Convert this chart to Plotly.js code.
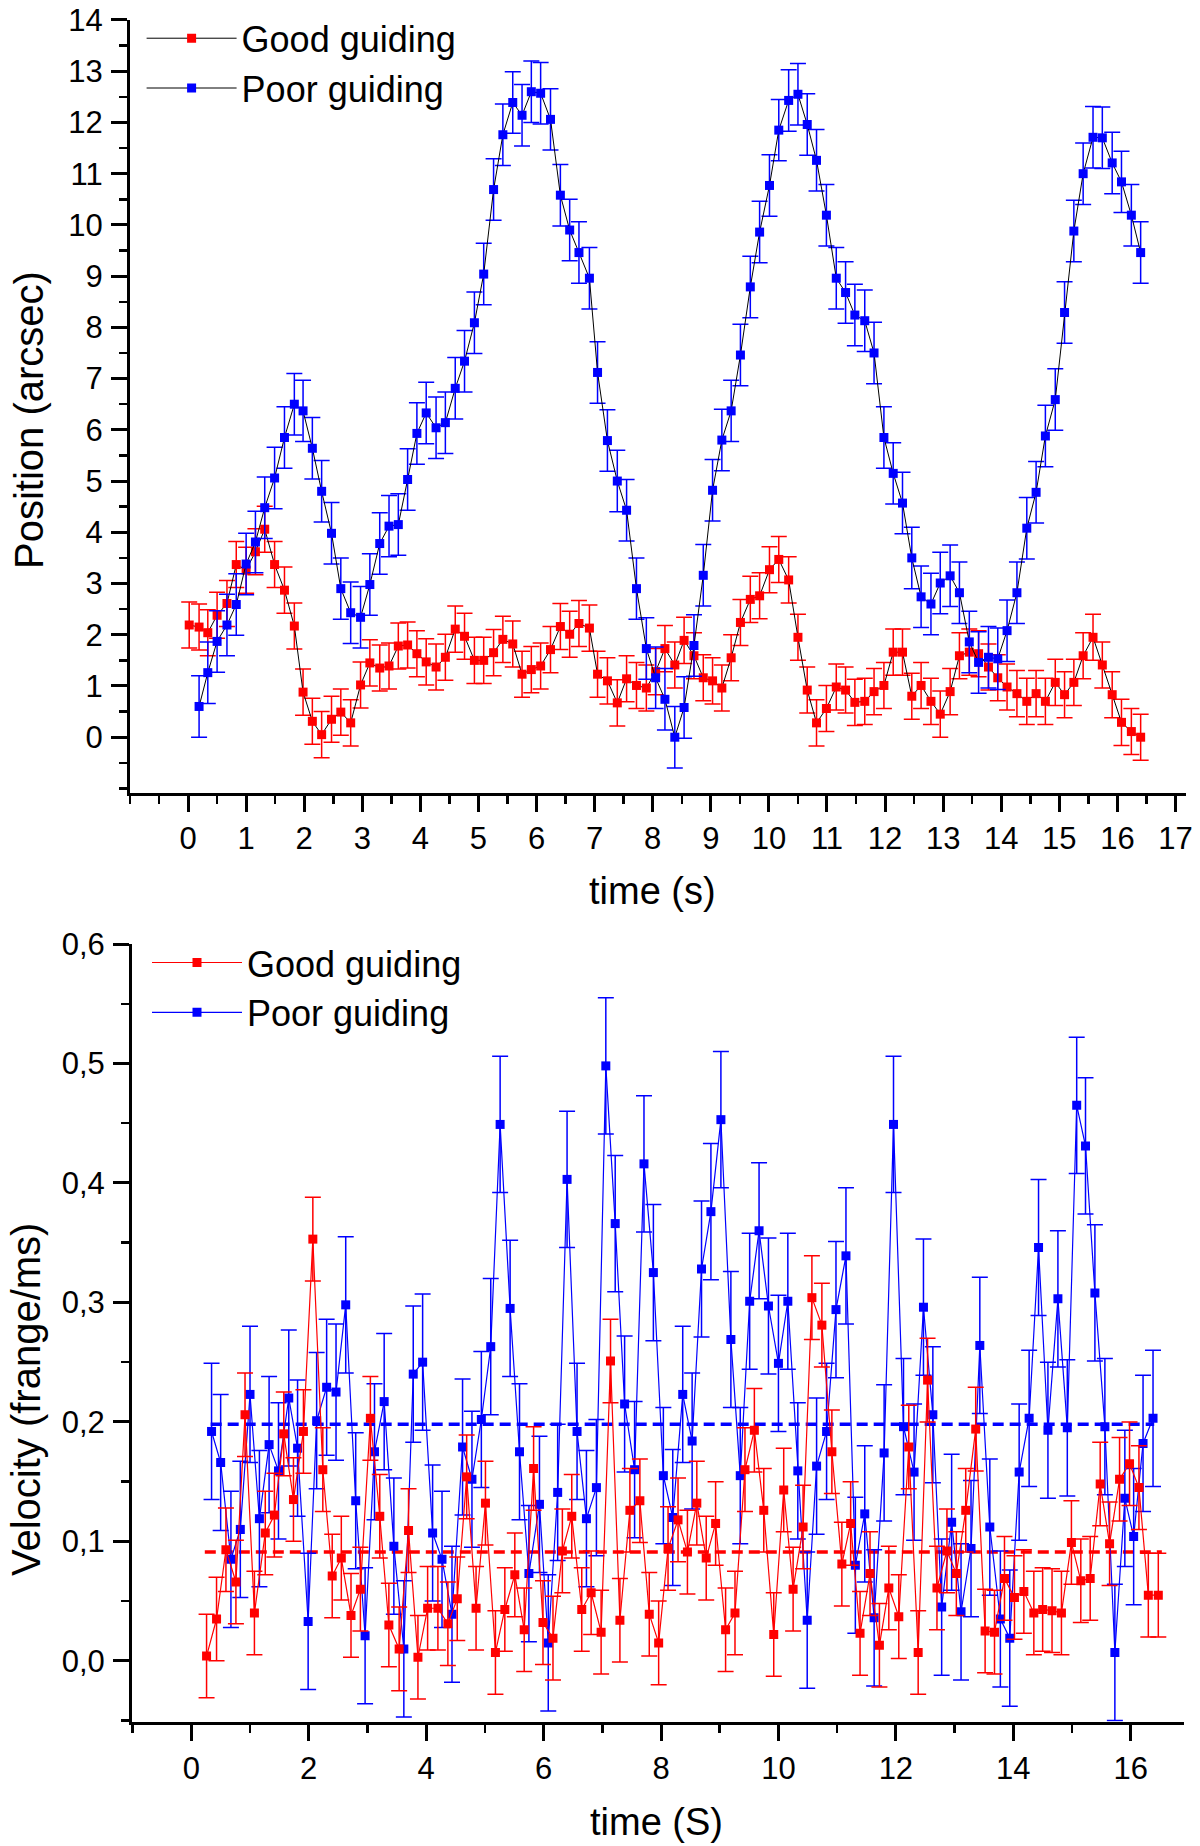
<!DOCTYPE html>
<html>
<head>
<meta charset="utf-8">
<script src="https://cdn.plot.ly/plotly-3.0.1.min.js"></script>
<style>
  html, body { margin: 0; padding: 0; background: #fff; }
  #chart { width: 1200px; height: 1846px; }
</style>
</head>
<body>
<div id="chart"></div>
<script>
///////////////////////////////////////////////  data /////////////////////////////////////////////////////////
// top panel: position (arcsec) vs time (s)
var timeGoodTop = [0.02,0.19,0.34,0.50,0.67,0.83,1.00,1.16,1.32,1.49,1.66,1.83,1.98,2.14,2.30,2.47,2.63,2.80,2.97,3.13,
  3.30,3.46,3.62,3.78,3.94,4.10,4.27,4.43,4.60,4.76,4.93,5.09,5.26,5.42,5.59,5.75,5.91,6.07,6.24,6.41,
  6.57,6.73,6.91,7.05,7.22,7.39,7.55,7.72,7.89,8.05,8.21,8.38,8.54,8.71,8.87,9.03,9.19,9.35,9.51,9.68,
  9.84,10.01,10.17,10.34,10.50,10.66,10.82,10.99,11.16,11.32,11.48,11.65,11.81,11.98,12.14,12.30,12.46,12.62,12.79,12.95,
  13.12,13.28,13.45,13.61,13.78,13.94,14.10,14.27,14.44,14.60,14.76,14.93,15.09,15.25,15.41,15.58,15.74,15.91,16.07,16.24,16.40];
var posGood = [2.19,2.15,2.04,2.38,2.61,3.37,3.26,3.62,4.06,3.37,2.87,2.17,0.88,0.31,0.05,0.35,0.49,0.28,1.02,1.45,
  1.35,1.39,1.78,1.80,1.63,1.47,1.37,1.56,2.11,1.97,1.50,1.50,1.65,1.91,1.82,1.23,1.32,1.39,1.71,2.16,
  2.01,2.22,2.13,1.23,1.10,0.67,1.14,1.01,0.96,1.28,1.73,1.41,1.89,1.59,1.16,1.10,0.96,1.55,2.24,2.69,
  2.76,3.27,3.47,3.07,1.95,0.92,0.28,0.56,0.98,0.92,0.68,0.70,0.89,1.01,1.66,1.66,0.80,1.01,0.70,0.45,
  0.89,1.59,1.66,1.63,1.37,1.16,0.98,0.85,0.70,0.85,0.70,1.07,0.83,1.07,1.59,1.95,1.41,0.83,0.29,0.11,0.00];

var timePoorTop = [0.19,0.34,0.50,0.67,0.83,1.00,1.16,1.32,1.49,1.66,1.83,1.98,2.14,2.30,2.47,2.63,2.80,2.97,3.13,3.30,
  3.46,3.62,3.78,3.94,4.10,4.27,4.43,4.60,4.76,4.93,5.09,5.26,5.42,5.59,5.75,5.91,6.07,6.24,6.41,6.57,
  6.73,6.91,7.05,7.22,7.39,7.55,7.72,7.89,8.05,8.21,8.38,8.54,8.71,8.87,9.03,9.19,9.35,9.51,9.68,9.84,
  10.01,10.17,10.34,10.50,10.66,10.82,10.99,11.16,11.32,11.48,11.65,11.81,11.98,12.14,12.30,12.46,12.62,12.79,12.95,13.12,
  13.28,13.45,13.61,13.78,13.94,14.10,14.27,14.44,14.60,14.76,14.93,15.09,15.25,15.41,15.58,15.74,15.91,16.07,16.24,16.40];
var posPoor = [0.60,1.26,1.87,2.19,2.59,3.38,3.81,4.48,5.06,5.85,6.50,6.37,5.64,4.80,3.98,2.90,2.43,2.34,2.98,3.78,
  4.12,4.15,5.03,5.93,6.33,6.04,6.14,6.81,7.34,8.09,9.04,10.69,11.76,12.39,12.14,12.60,12.57,12.06,10.58,9.90,
  9.46,8.96,7.12,5.79,5.00,4.43,2.90,1.73,1.16,0.74,0.00,0.58,1.79,3.16,4.82,5.80,6.37,7.46,8.79,9.86,
  10.77,11.85,12.43,12.55,11.96,11.26,10.19,8.96,8.68,8.24,8.13,7.50,5.85,5.15,4.57,3.50,2.74,2.60,3.01,3.15,
  2.82,1.86,1.46,1.56,1.53,2.08,2.82,4.08,4.78,5.88,6.59,8.29,9.88,11.00,11.71,11.70,11.21,10.84,10.19,9.46];

var errPosGood = 0.45;
var errPosPoor = 0.6;

// bottom panel: velocity (frange/ms) vs time (S)
var timeGoodBottom = [0.26,0.43,0.59,0.76,0.915,1.075,1.26,1.415,1.575,1.74,1.91,2.07,2.24,2.40,2.555,2.72,2.88,3.05,3.21,3.365,
  3.54,3.70,3.86,4.025,4.20,4.37,4.53,4.69,4.85,5.01,5.18,5.34,5.51,5.67,5.83,5.99,6.16,6.32,6.48,6.65,
  6.81,6.98,7.14,7.30,7.47,7.64,7.80,7.96,8.12,8.29,8.45,8.61,8.77,8.93,9.10,9.26,9.43,9.59,9.75,9.92,
  10.09,10.25,10.42,10.57,10.74,10.91,11.08,11.23,11.39,11.56,11.72,11.88,12.05,12.22,12.38,12.54,12.70,12.87,13.03,13.19,
  13.36,13.52,13.68,13.85,14.02,14.18,14.35,14.50,14.66,14.82,14.99,15.15,15.31,15.48,15.64,15.81,15.98,16.14,16.30,16.47];
var velGood = [0.004,0.035,0.093,0.066,0.206,0.040,0.107,0.122,0.190,0.135,0.192,0.353,0.160,0.071,0.086,0.038,0.060,0.203,0.121,0.030,
  0.010,0.109,0.003,0.044,0.044,0.031,0.052,0.154,0.044,0.132,0.007,0.043,0.072,0.026,0.161,0.032,0.019,0.092,0.121,0.043,
  0.057,0.024,0.251,0.034,0.126,0.134,0.039,0.015,0.094,0.118,0.091,0.132,0.086,0.115,0.026,0.040,0.160,0.193,0.126,0.022,
  0.143,0.060,0.112,0.304,0.281,0.175,0.081,0.115,0.023,0.073,0.013,0.061,0.037,0.179,0.007,0.235,0.061,0.092,0.073,0.126,
  0.194,0.025,0.024,0.069,0.053,0.058,0.040,0.043,0.042,0.040,0.099,0.067,0.069,0.148,0.098,0.152,0.165,0.145,0.055,0.055];

var timePoorBottom = [0.345,0.50,0.675,0.835,1.00,1.16,1.325,1.485,1.66,1.81,1.99,2.135,2.305,2.465,2.63,2.80,2.96,3.12,3.285,3.45,
  3.62,3.78,3.94,4.11,4.27,4.44,4.62,4.78,4.94,5.10,5.26,5.43,5.59,5.75,5.93,6.08,6.24,6.40,6.57,6.73,
  6.90,7.06,7.22,7.38,7.55,7.71,7.87,8.04,8.20,8.37,8.53,8.69,8.85,9.02,9.19,9.35,9.51,9.67,9.83,10.00,
  10.16,10.33,10.49,10.65,10.82,10.98,11.15,11.31,11.47,11.63,11.80,11.96,12.13,12.31,12.47,12.63,12.78,12.95,13.11,13.28,
  13.43,13.60,13.78,13.94,14.10,14.27,14.43,14.59,14.76,14.92,15.08,15.23,15.39,15.56,15.73,15.90,16.05,16.21,16.38];
var velPoor = [0.192,0.166,0.085,0.110,0.223,0.119,0.181,0.159,0.220,0.178,0.033,0.201,0.229,0.225,0.298,0.134,0.021,0.175,0.217,0.096,
  0.010,0.240,0.250,0.107,0.085,0.039,0.179,0.152,0.202,0.263,0.449,0.295,0.175,0.073,0.131,0.015,0.141,0.403,0.192,0.119,
  0.145,0.498,0.366,0.215,0.160,0.416,0.325,0.155,0.120,0.223,0.184,0.328,0.376,0.453,0.269,0.155,0.301,0.360,0.297,0.249,
  0.301,0.159,0.034,0.163,0.192,0.294,0.339,0.080,0.123,0.036,0.174,0.449,0.196,0.158,0.296,0.206,0.045,0.116,0.041,0.094,
  0.264,0.112,0.035,0.019,0.158,0.203,0.346,0.193,0.303,0.195,0.465,0.431,0.308,0.196,0.007,0.136,0.104,0.182,0.203];

var errVelGood = 0.035;
var errVelPoor = 0.057;

// mean levels (dashed lines)
var meanVelGood = 0.091;
var meanVelPoor = 0.198;
var meanSpanGood = [0.23, 16.53];
var meanSpanPoor = [0.33, 16.40];

// tick values
var topXTicks = [0,1,2,3,4,5,6,7,8,9,10,11,12,13,14,15,16,17];
var topYTicks = [0,1,2,3,4,5,6,7,8,9,10,11,12,13,14];
var botXTicks = [0,2,4,6,8,10,12,14,16];
var botYTicks = [0,0.1,0.2,0.3,0.4,0.5,0.6];

///////////////////////////////////////////////  styles /////////////////////////////////////////////////////////
var RED = '#ff0000';
var BLUE = '#0000ff';
var FONT = 'Liberation Sans, Arial, sans-serif';

function axisStyle(extra) {
  var base = {
    showline: true, linewidth: 3, linecolor: '#000',
    ticks: 'outside', ticklen: 16, tickwidth: 3, tickcolor: '#000',
    tickmode: 'array',
    showgrid: false, zeroline: false, fixedrange: true,
    tickfont: {family: FONT, size: 31, color: '#000'}
  };
  return Object.assign(base, extra);
}

function minorStyle(dtick, tick0) {
  return {tickmode: 'linear', tick0: tick0, dtick: dtick, ticks: 'outside', ticklen: 8, tickwidth: 2.5, tickcolor: '#000', showgrid: false};
}

function series(x, y, err, color, lineColor, lineWidth, name, xa, ya, legendName) {
  return {
    x: x, y: y, type: 'scatter', mode: 'lines+markers', name: name,
    xaxis: xa, yaxis: ya, legend: legendName,
    line: {color: lineColor, width: lineWidth},
    marker: {symbol: 'square', size: 9, color: color, line: {width: 0}},
    error_y: {type: 'constant', value: err, color: color, thickness: 1.5, width: 8}
  };
}

function meanLine(span, level, color) {
  return {
    x: span, y: [level, level], type: 'scatter', mode: 'lines',
    xaxis: 'x2', yaxis: 'y2', showlegend: false, hoverinfo: 'skip',
    line: {color: color, width: 3.5, dash: '11px,6px'}
  };
}

///////////////////////////////////////////////  traces /////////////////////////////////////////////////////////
var traces = [
  series(timeGoodTop, posGood, errPosGood, RED, '#000', 1, 'Good guiding', 'x', 'y', 'legend'),
  series(timePoorTop, posPoor, errPosPoor, BLUE, '#000', 1, 'Poor guiding', 'x', 'y', 'legend'),
  meanLine(meanSpanPoor, meanVelPoor, BLUE),
  meanLine(meanSpanGood, meanVelGood, RED),
  series(timePoorBottom, velPoor, errVelPoor, BLUE, BLUE, 1.2, 'Poor guiding', 'x2', 'y2', 'legend2'),
  series(timeGoodBottom, velGood, errVelGood, RED, RED, 1.2, 'Good guiding', 'x2', 'y2', 'legend2')
];

function legendStyle(x, y, order) {
  return {
    x: x, y: y, xanchor: 'left', yanchor: 'top', traceorder: order,
    bgcolor: 'rgba(0,0,0,0)', borderwidth: 0, itemwidth: 90,
    font: {family: FONT, size: 36, color: '#000'}, tracegroupgap: 0
  };
}

function label(text, x, y, angle, size) {
  return {text: text, x: x, y: y, xref: 'paper', yref: 'paper', showarrow: false,
    textangle: angle, xanchor: 'center', yanchor: 'middle',
    font: {family: FONT, size: size, color: '#000'}};
}

var layout = {
  width: 1200, height: 1846,
  margin: {l: 0, r: 0, t: 0, b: 0},
  paper_bgcolor: '#fff', plot_bgcolor: '#fff',
  separators: ', ',
  font: {family: FONT, color: '#000'},
  showlegend: true,
  xaxis: axisStyle({domain: [0.1083, 0.9883], range: [-1, 17.18], anchor: 'y', tickvals: topXTicks,
    ticklabelstandoff: 0, minor: minorStyle(0.5, 0)}),
  yaxis: axisStyle({domain: [0.5704, 0.98917], range: [-1.09, 14], anchor: 'x', tickvals: topYTicks,
    ticklabelstandoff: 2, minor: minorStyle(0.5, 0)}),
  xaxis2: axisStyle({domain: [0.11, 0.9863], range: [-1.01, 16.9], anchor: 'y2', tickvals: botXTicks,
    ticklabelstandoff: 1, minor: minorStyle(1, 0)}),
  yaxis2: axisStyle({domain: [0.0673, 0.4886], range: [-0.051, 0.6], anchor: 'x2', tickvals: botYTicks,
    ticklabelstandoff: 2, tickformat: '.1f', minor: minorStyle(0.05, 0)}),
  legend: legendStyle(0.118, 0.9955, 'normal'),
  legend2: legendStyle(0.1225, 0.4948, 'reversed'),
  annotations: [
    label('Position (arcsec)', 0.0242, 0.7725, -90, 40),
    label('time (s)', 0.544, 0.5176, 0, 38),
    label('Velocity (frange/ms)', 0.0217, 0.2416, -90, 40),
    label('time (S)', 0.547, 0.013, 0, 38)
  ]
};

Plotly.newPlot('chart', traces, layout, {displayModeBar: false, staticPlot: true});
</script>
</body>
</html>
